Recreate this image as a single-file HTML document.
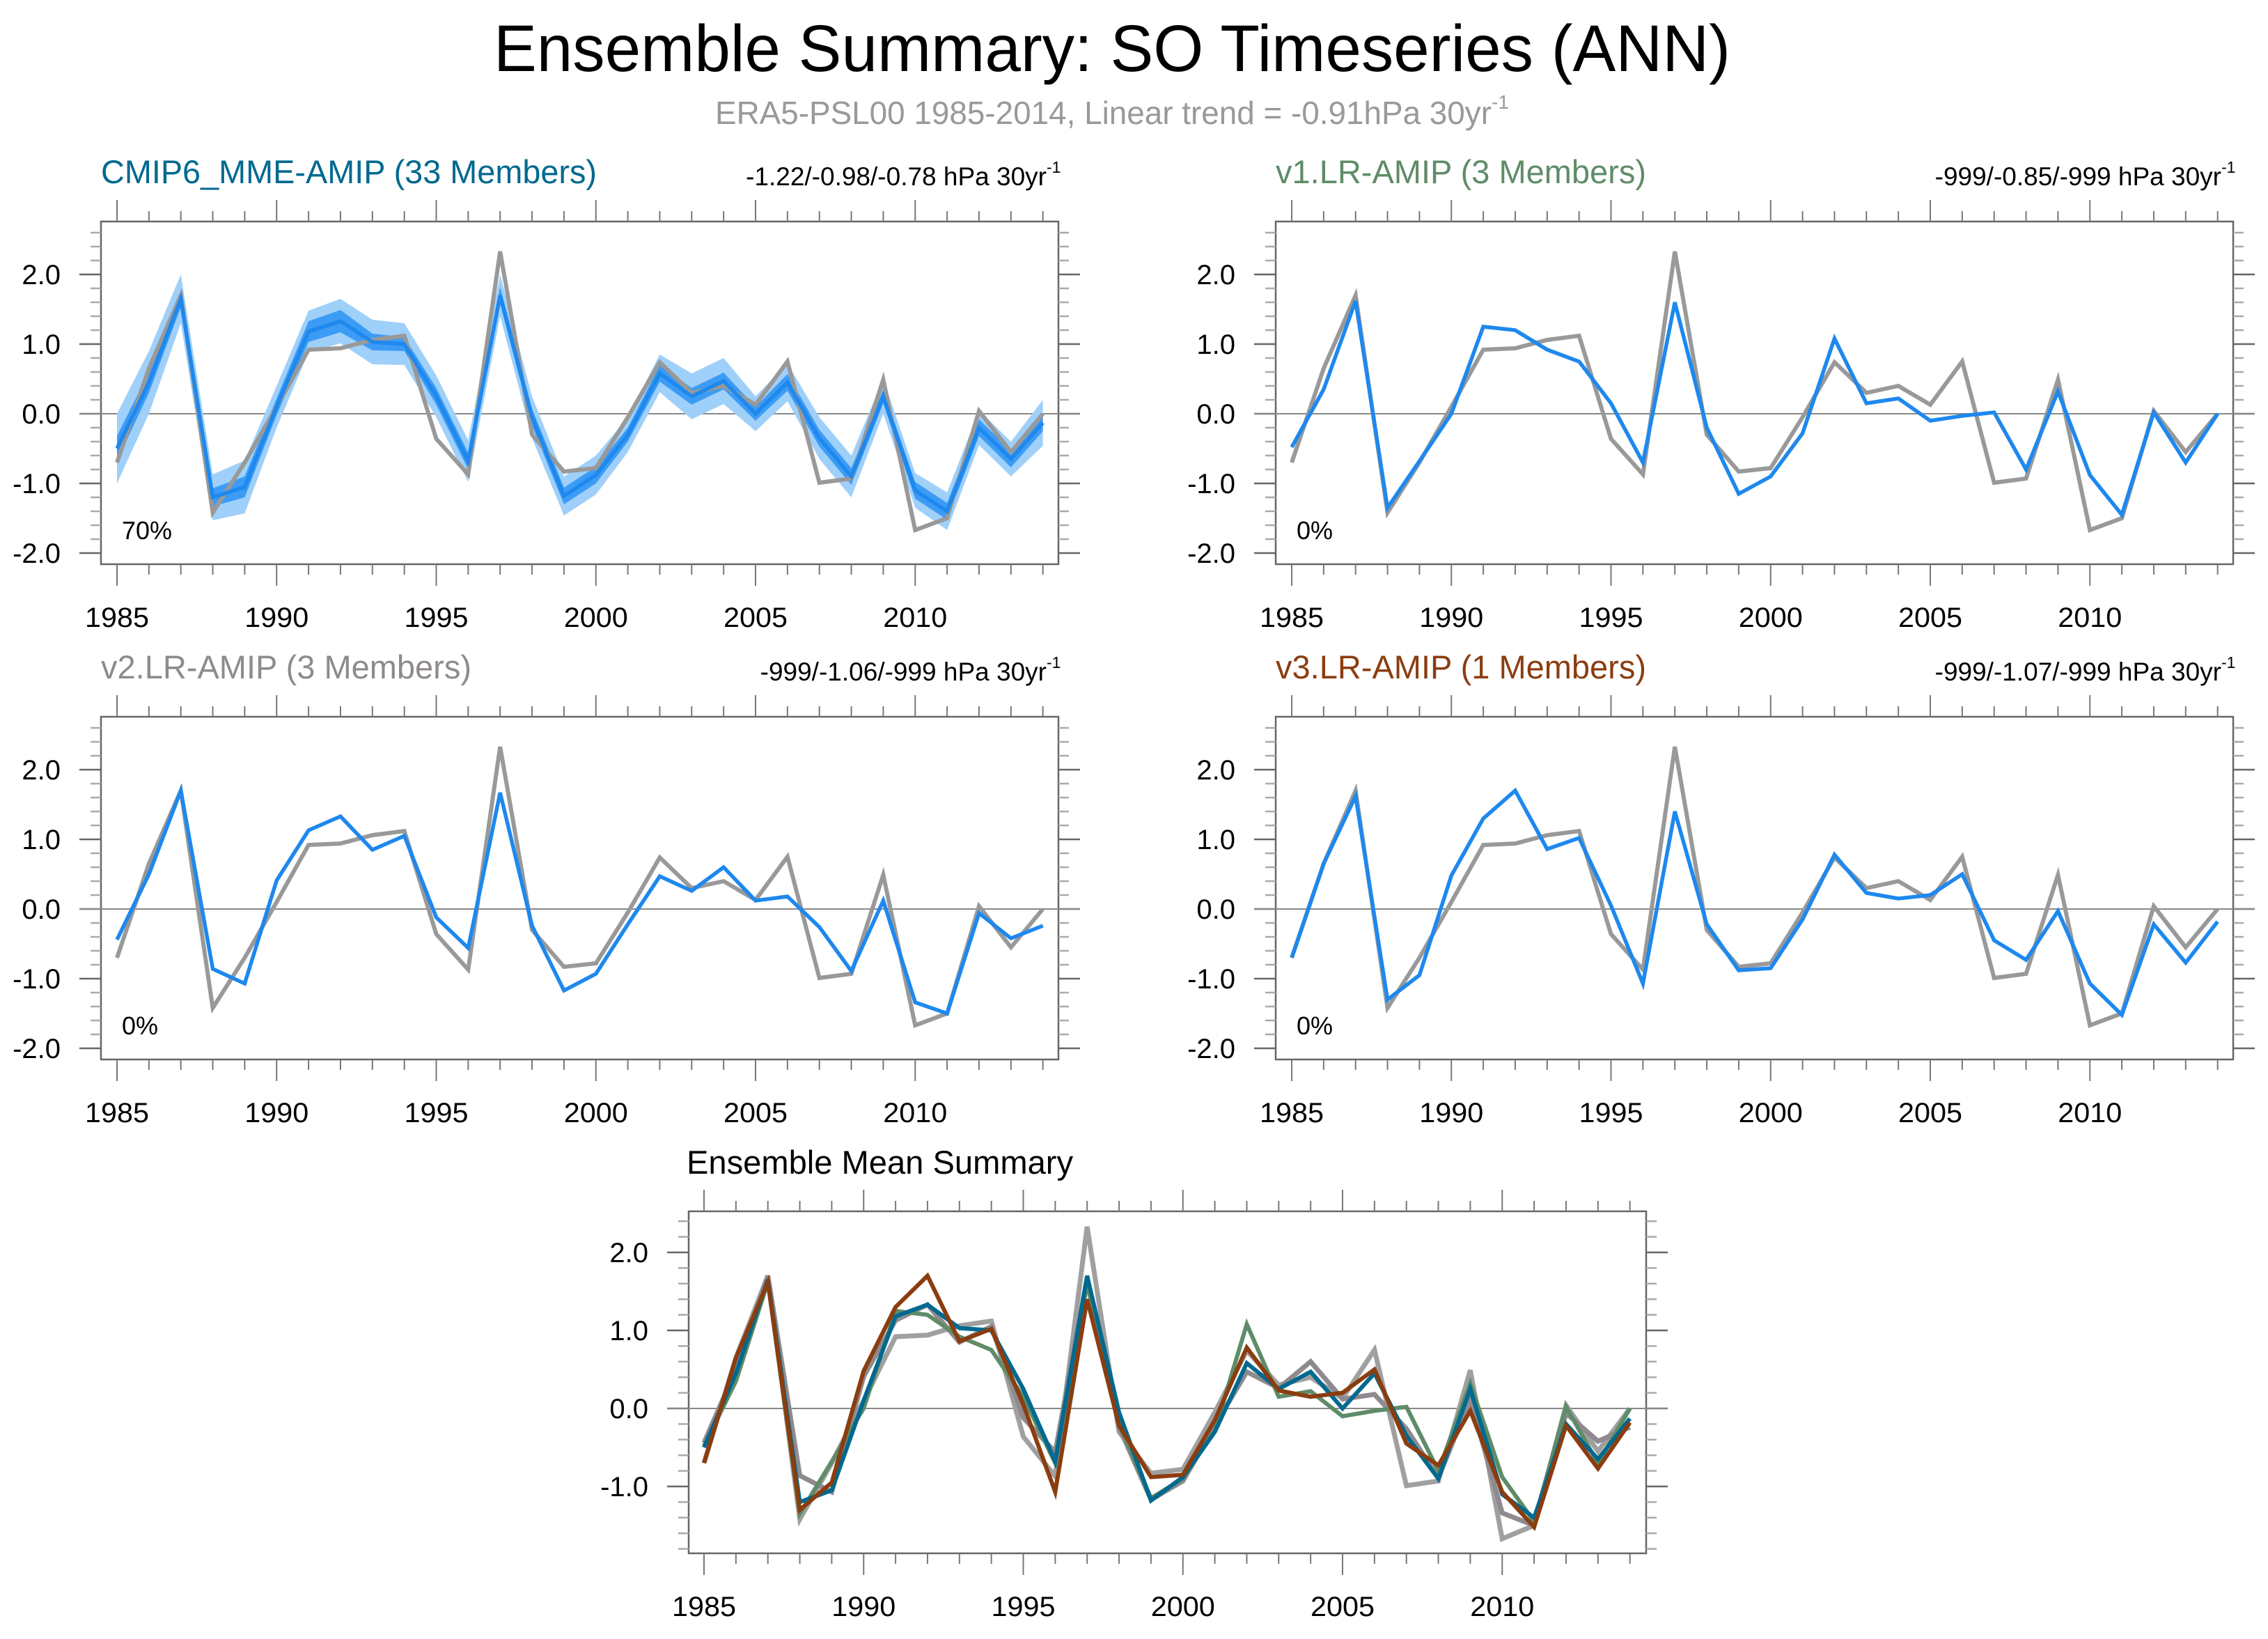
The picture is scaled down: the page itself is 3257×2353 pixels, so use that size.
<!DOCTYPE html>
<html><head><meta charset="utf-8"><style>
html,body{margin:0;padding:0;background:#fff;}
svg{display:block;font-family:"Liberation Sans",sans-serif;}
</style></head><body>
<svg id="fig" xmlns="http://www.w3.org/2000/svg" width="3257" height="2353" viewBox="0 0 3257 2353">
<text x="1597" y="102" font-size="95" text-anchor="middle" textLength="1776" lengthAdjust="spacingAndGlyphs">Ensemble Summary: SO Timeseries (ANN)</text>
<text x="1027" y="178" font-size="46" fill="#999">
<tspan textLength="1115" lengthAdjust="spacingAndGlyphs">ERA5-PSL00 1985-2014, Linear trend = -0.91hPa 30yr</tspan><tspan font-size="28" dy="-22">-1</tspan></text>
<g id="plots"></g>
</svg>
<script>
const years = [1985,1986,1987,1988,1989,1990,1991,1992,1993,1994,1995,1996,1997,1998,1999,2000,2001,2002,2003,2004,2005,2006,2007,2008,2009,2010,2011,2012,2013,2014];
const obs = [-0.7,0.65,1.7,-1.42,-0.7,0.1,0.92,0.94,1.06,1.12,-0.36,-0.87,2.33,-0.3,-0.83,-0.78,-0.05,0.74,0.3,0.4,0.13,0.75,-0.99,-0.93,0.49,-1.67,-1.5,0.04,-0.55,0.0];
const mme = [-0.5,0.45,1.65,-1.2,-1.05,0.1,1.18,1.33,1.03,1.0,0.25,-0.68,1.7,-0.05,-1.18,-0.88,-0.3,0.58,0.25,0.47,0.0,0.45,-0.35,-0.9,0.25,-1.1,-1.4,-0.2,-0.65,-0.13];
const mmeOuter = [0.5,0.45,0.35,0.33,0.38,0.3,0.3,0.32,0.32,0.3,0.3,0.3,0.3,0.3,0.28,0.28,0.25,0.27,0.33,0.33,0.25,0.27,0.3,0.3,0.25,0.25,0.27,0.25,0.25,0.33];
const mmeInner = [0.18,0.15,0.12,0.13,0.15,0.12,0.15,0.16,0.12,0.1,0.12,0.12,0.12,0.12,0.12,0.12,0.1,0.12,0.12,0.12,0.1,0.12,0.12,0.12,0.1,0.12,0.12,0.12,0.12,0.12];
const v1 = [-0.48,0.35,1.62,-1.35,-0.68,0.0,1.25,1.2,0.92,0.75,0.15,-0.7,1.6,-0.2,-1.15,-0.9,-0.28,1.08,0.15,0.22,-0.1,-0.03,0.02,-0.8,0.32,-0.88,-1.45,0.02,-0.7,0.0];
const v2 = [-0.44,0.5,1.7,-0.86,-1.07,0.41,1.13,1.33,0.85,1.05,-0.12,-0.56,1.67,-0.24,-1.17,-0.93,-0.22,0.47,0.26,0.6,0.12,0.18,-0.26,-0.89,0.12,-1.34,-1.5,-0.06,-0.42,-0.24];
const v3 = [-0.7,0.65,1.62,-1.3,-0.95,0.48,1.3,1.7,0.86,1.02,0.05,-1.07,1.4,-0.22,-0.88,-0.85,-0.15,0.78,0.23,0.15,0.2,0.5,-0.45,-0.73,-0.03,-1.07,-1.52,-0.22,-0.77,-0.18];
const yTicks = [-2,-1,0,1,2];
const yTickLabels = ["-2.0","-1.0","0.0","1.0","2.0"];
const xTicks = [1985,1990,1995,2000,2005,2010];
const trendLabels = ["-1.22/-0.98/-0.78 hPa 30yr","-999/-0.85/-999 hPa 30yr","-999/-1.06/-999 hPa 30yr","-999/-1.07/-999 hPa 30yr"];
const titles = ["CMIP6_MME-AMIP (33 Members)","v1.LR-AMIP (3 Members)","v2.LR-AMIP (3 Members)","v3.LR-AMIP (1 Members)"];
const titleWidths = [712,532,532,532];
const pctLabels = ["70%","0%","0%","0%"];

const NS="http://www.w3.org/2000/svg";
const root=document.getElementById('plots');
function mk(tag,attrs,parent){const e=document.createElementNS(NS,tag);for(const k in attrs)e.setAttribute(k,attrs[k]);(parent||root).appendChild(e);return e;}

function panel(cfg){
  const g=mk('g',{});
  
  
  const L=cfg.x0,R=cfg.x0+1375,T=cfg.y0,B=cfg.y0+cfg.h;
  const xs=y=>cfg.x1985+(y-1985)*45.85;
  const ys=v=>cfg.zero-v*cfg.unit;
  const fr=mk('rect',{x:L,y:T,width:R-L,height:B-T,fill:'none',stroke:'#666','stroke-width':2.5},g);
  
  
  for(let yr=1985;yr<=2014;yr++){
    const major=(yr%5===0), len=major?31:15, x=xs(yr);
    mk('line',{x1:x,x2:x,y1:T,y2:T-len,stroke:'#777','stroke-width':2},g);
    mk('line',{x1:x,x2:x,y1:B,y2:B+len,stroke:'#777','stroke-width':2},g);
  }
  for(const yr of xTicks){
    const t=mk('text',{x:xs(yr),y:B+90,'font-size':40,'text-anchor':'middle',textLength:92,lengthAdjust:'spacingAndGlyphs'},g);
    t.textContent=yr;
    
    
  }
  const vmin=(cfg.zero-B)/cfg.unit, vmax=(cfg.zero-T)/cfg.unit;
  for(let k=Math.ceil(vmin*5);k<=Math.floor(vmax*5);k++){
    const v=k/5, major=(k%5===0), len=major?31:15, y=ys(v);
    mk('line',{x1:L,x2:L-len,y1:y,y2:y,stroke:major?'#666':'#aaa','stroke-width':2.5},g);
    mk('line',{x1:R,x2:R+len,y1:y,y2:y,stroke:major?'#666':'#aaa','stroke-width':2.5},g);
  }
  yTicks.forEach((v,i)=>{
    if(v<vmin-0.01||v>vmax+0.01)return;
    const t=mk('text',{x:L-58,y:ys(v)+14,'font-size':40,'text-anchor':'end'},g);
    t.textContent=yTickLabels[i];
    
    
  });
  mk('line',{x1:L-31,x2:R+31,y1:ys(0),y2:ys(0),stroke:'#888','stroke-width':2},g);
  if(cfg.title){
    const t=mk('text',{x:L,y:T-55,'font-size':47,fill:cfg.titleColor,textLength:cfg.titleW,lengthAdjust:'spacingAndGlyphs'},g);
    t.textContent=cfg.title;
    
    
  }
  if(cfg.trend){
    const t=mk('text',{x:R-17,y:T-52,'font-size':37,'text-anchor':'end'},g);
    t.textContent=cfg.trend;
    
    
    const s=mk('text',{x:R-17,y:T-70,'font-size':23},g);
    s.textContent='-1';
    
    
  }
  if(cfg.pct){
    const t=mk('text',{x:L+30,y:B-36,'font-size':36},g);
    t.textContent=cfg.pct;
    
    
  }
  if(cfg.bands){
    [[mmeOuter,'#9fd0fa'],[mmeInner,'#3c9cf5']].forEach(([sp,col])=>{
      const up=years.map((yr,i)=>xs(yr)+','+ys(mme[i]+sp[i]));
      const lo=years.map((yr,i)=>xs(yr)+','+ys(mme[i]-sp[i])).reverse();
      const p=mk('polygon',{points:up.concat(lo).join(' '),fill:col},g);
      
      
    });
  }
  cfg.series.forEach(s=>{
    const p=mk('polyline',{points:years.map((yr,i)=>xs(yr)+','+ys(s.d[i])).join(' '),fill:'none',stroke:s.c,'stroke-width':s.w,'stroke-linejoin':'miter'},g);
    
    
  });
}
const rowY=[318,1029];
const colX=[145,1832];
const seriesMain=[mme,v1,v2,v3];
for(let i=0;i<4;i++){
  const c=i%2,r=Math.floor(i/2);
  panel({name:'panel-'+(i+1),x0:colX[c],y0:rowY[r],h:492,x1985:colX[c]+23,zero:rowY[r]+276,unit:100,
    title:titles[i],titleW:titleWidths[i],titleColor:['#00698f','#5f8c68','#8f8a8f','#8b3d0f'][i],trend:trendLabels[i],pct:pctLabels[i],bands:i===0,
    series:[{d:obs,c:'#999',w:6,n:'obs-line'},{d:seriesMain[i],c:'#1e88ee',w:5.5,n:'model-line'}]});
}
panel({name:'panel-ensemble-mean',x0:989,y0:1739,h:491,x1985:1011,zero:2022,unit:112,
  series:[{d:obs,c:'#a0a0a0',w:7,n:'obs-line'},{d:v2,c:'#8f8a8f',w:7,n:'v2-line'},{d:v1,c:'#5f8c68',w:6,n:'v1-line'},{d:mme,c:'#00698f',w:6,n:'mme-line'},{d:v3,c:'#8b3d0f',w:6,n:'v3-line'}]});
const t=mk('text',{x:986,y:1685,'font-size':47,textLength:555,lengthAdjust:'spacingAndGlyphs'});
t.textContent='Ensemble Mean Summary';


</script>
</body></html>
